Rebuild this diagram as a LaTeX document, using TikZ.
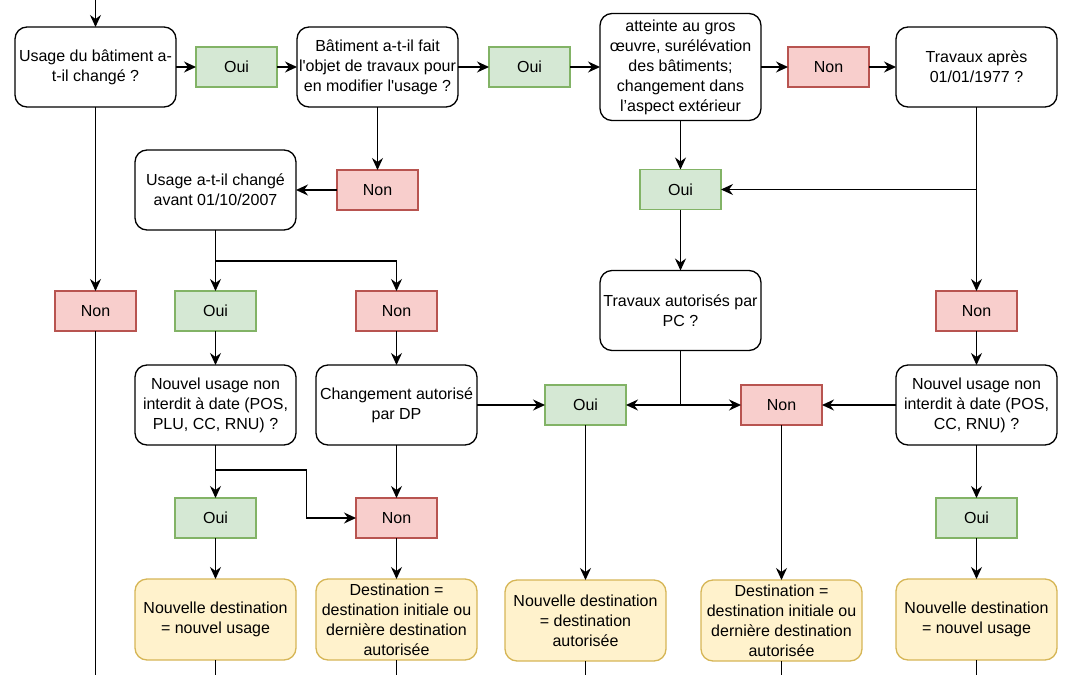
\documentclass[tikz,border=0pt]{standalone}
\usepackage{fontspec}
\setmainfont{Liberation Sans}
\usetikzlibrary{positioning,arrows.meta}
\definecolor{ouifill}{HTML}{D5E8D4}
\definecolor{ouidraw}{HTML}{82B366}
\definecolor{nonfill}{HTML}{F8CECC}
\definecolor{nondraw}{HTML}{B85450}
\definecolor{destfill}{HTML}{FFF2CC}
\definecolor{destdraw}{HTML}{D6B656}
\begin{document}
\begin{tikzpicture}[node distance=20pt,every node/.style={inner sep=2pt,outer sep=0pt,align=center,font=\fontsize{16}{20}\selectfont}]
\tikzstyle{arrow}=[draw,line width=1.3pt,-{Stealth[length=12pt,width=11pt,inset=4pt]}]
\tikzstyle{wire}=[draw,line width=1.3pt]
\tikzstyle{question}=[draw,line width=1.3pt,rounded corners=12pt,minimum width=161pt,minimum height=80pt]
\tikzstyle{oui}=[draw=ouidraw,fill=ouifill,line width=1.3pt,minimum width=81pt,minimum height=40pt]
\tikzstyle{non}=[draw=nondraw,fill=nonfill,line width=1.3pt,minimum width=81pt,minimum height=40pt]
\tikzstyle{dest}=[draw=destdraw,fill=destfill,line width=1.3pt,rounded corners=12pt,minimum width=161pt,minimum height=81pt,inner ysep=1pt]
\useasboundingbox (0,0) rectangle (1074pt,-675pt);
\coordinate (top) at (0,0);
\coordinate (bottom) at (0,-675pt);

% top row
\node[question] (q0) at (95.5pt,-67pt) {Usage du bâtiment a-\\t-il changé ?};
\node[oui,right=20pt of q0] (o0) {Oui};
\node[question,right=20pt of o0] (q1) {Bâtiment a-t-il fait\\l\textquotesingle objet de travaux pour\\en modifier l\textquotesingle usage ?};
\node[oui,right=31pt of q1] (o1) {Oui};
\node[question,right=30pt of o1,minimum height=107pt] (q2) {atteinte au gros\\œuvre, surélévation\\des bâtiments;\\changement dans\\l’aspect extérieur};
\node[non,right=27pt of q2] (n0) {Non};
\node[question,right=27pt of n0] (q3) {Travaux après\\01/01/1977 ?};

% second row
\node[non,below=63pt of q1] (n1) {Non};
\node[question,left=41pt of n1] (q4) {Usage a-t-il changé\\avant 01/10/2007};
\node[oui,below=49pt of q2] (o2) {Oui};

% third row
\node[non,below=184pt of q0] (n2) {Non};
\node[oui,below=61pt of q4] (o3) {Oui};
\node[question,below=34pt of o3] (q5) {Nouvel usage non\\interdit à date (POS,\\PLU, CC, RNU) ?};
\node[question,right=20pt of q5] (q6) {Changement autorisé\\par DP};
\node[non,above=34pt of q6] (n3) {Non};
\node[question,below=61pt of o2] (q7) {Travaux autorisés par\\PC ?};
\node[non,below=184pt of q3] (n4) {Non};
\node[question,below=34pt of n4] (q8) {Nouvel usage non\\interdit à date (POS,\\CC, RNU) ?};
\node[oui,right=68pt of q6] (o4) {Oui};
\node[non,left=74pt of q8] (n5) {Non};

% fourth row
\node[oui,below=53pt of q5] (o5) {Oui};
\node[non,below=53pt of q6] (n6) {Non};
\node[oui,below=53pt of q8] (o6) {Oui};

% destinations
\node[dest,below=41pt of o5] (d0) {Nouvelle destination\\= nouvel usage};
\node[dest,below=41pt of n6] (d1) {Destination =\\destination initiale ou\\dernière destination\\autorisée};
\node[dest,below=155pt of o4] (d2) {Nouvelle destination\\= destination\\autorisée};
\node[dest,below=155pt of n5] (d3) {Destination =\\destination initiale ou\\dernière destination\\autorisée};
\node[dest,below=41pt of o6] (d4) {Nouvelle destination\\= nouvel usage};

\path[arrow] (q0.north |- top) -- (q0);
\path[arrow] (q0) -- (o0);
\path[arrow] (o0) -- (q1);
\path[arrow] (q1) -- (o1);
\path[arrow] (o1) -- (q2);
\path[arrow] (q2) -- (n0);
\path[arrow] (n0) -- (q3);

\path[arrow] (q0) -- (n2);
\path[arrow] (q1) -- (n1);
\path[arrow] (n1) -- (q4);
\path[arrow] (q4) -- (o3);
\path[arrow] (q4.south) -- ++(0,-31pt) -| (n3.north);
\path[arrow] (o3) -- (q5);
\path[arrow] (n3) -- (q6);
\path[arrow] (q5) -- (o5);
\path[arrow] (q5.south) -- ++(0,-25pt) -- ++(91pt,0) |- (n6.west);
\path[arrow] (q6) -- (n6);
\path[arrow] (q6) -- (o4);
\path[arrow] (o5) -- (d0);
\path[arrow] (n6) -- (d1);

\path[arrow] (q2) -- (o2);
\path[arrow] (o2) -- (q7);
\path[arrow] (q3) -- (n4);
\path[arrow] (q3.south |- o2) -- (o2);
\path[arrow] (q7.south) |- (o4.east);
\path[arrow] (q7.south) |- (n5.west);
\path[arrow] (n4) -- (q8);
\path[arrow] (q8) -- (n5);
\path[arrow] (q8) -- (o6);
\path[arrow] (o4) -- (d2);
\path[arrow] (n5) -- (d3);
\path[arrow] (o6) -- (d4);

\foreach \n in {n2,d0,d1,d2,d3,d4}
  \path[wire] (\n.south) -- (\n.south |- bottom);
\end{tikzpicture}
\end{document}
